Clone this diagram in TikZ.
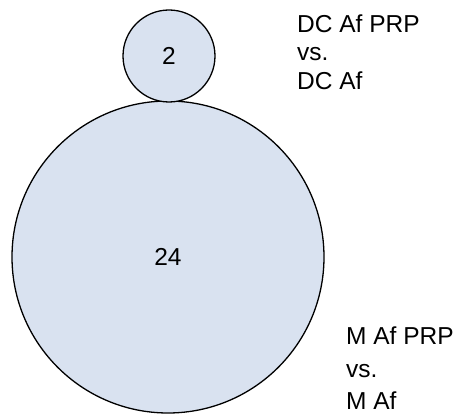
\documentclass[tikz,border=0pt]{standalone}
\usepackage{fontspec}
\setmainfont{Liberation Sans}
\definecolor{circfill}{RGB}{217,226,240}
\begin{document}
\begin{tikzpicture}[x=1pt,y=-1pt,
  venn/.style={circle,draw=black,line width=1.3pt,fill=circfill,inner sep=0pt,
    font=\fontsize{24.5}{27}\selectfont},
  lbl/.style={anchor=base west,inner sep=0pt,font=\fontsize{24.5}{27}\selectfont}]
\useasboundingbox (0,0) rectangle (459,414);
\node[venn,minimum size=312pt] (big) at (168,257) {24};
\node[venn,minimum size=92pt] (small) at (169,56) {2};
\node[lbl] (t1) at (297,33) {DC Af PRP};
\node[lbl] (t2) at (297,61) {vs.};
\node[lbl] (t3) at (297,90) {DC Af};
\node[lbl] (b1) at (346,345) {M Af PRP};
\node[lbl] (b2) at (346,378) {vs.};
\node[lbl] (b3) at (346,410) {M Af};
\end{tikzpicture}
\end{document}
